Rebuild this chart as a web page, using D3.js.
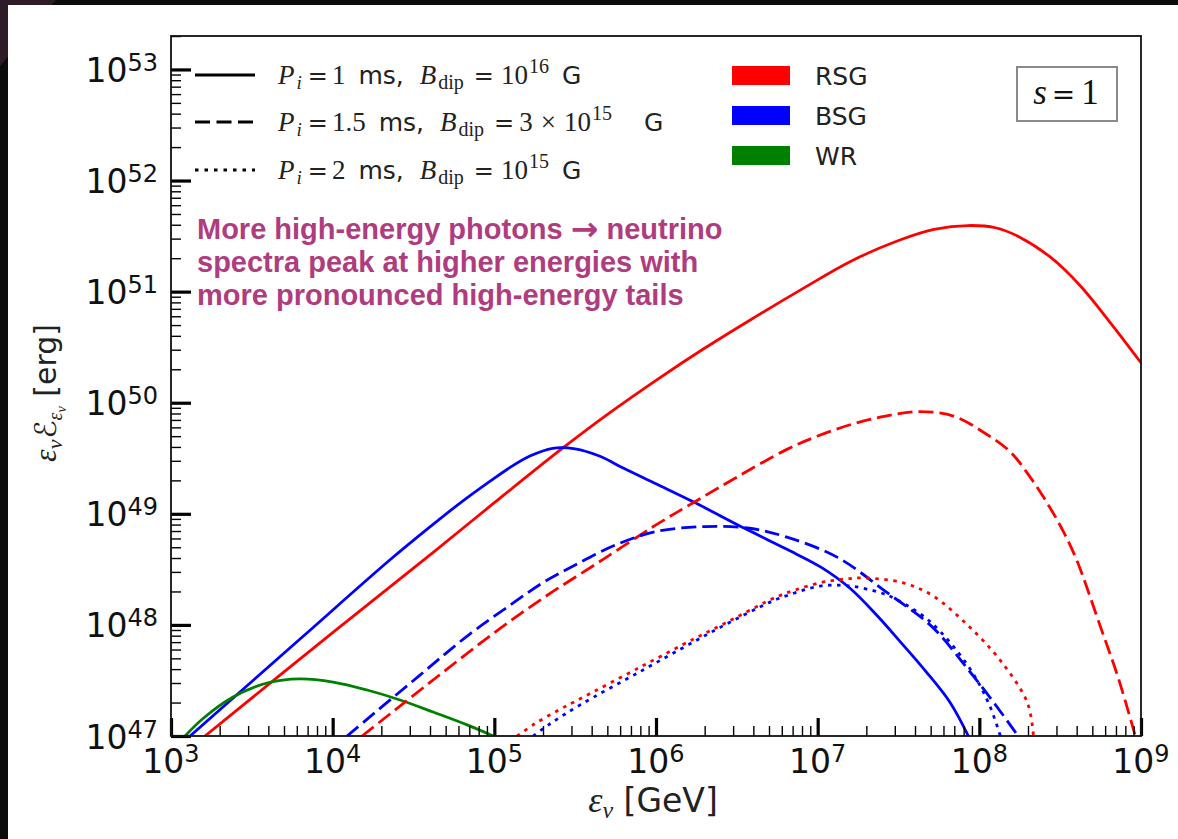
<!DOCTYPE html>
<html>
<head>
<meta charset="utf-8">
<script src="https://cdn.jsdelivr.net/npm/d3@7"></script>
<style>
  body { margin: 0; background: #0c0c0c; }
  svg { display: block; }
  text { white-space: pre; }
</style>
</head>
<body>
<svg id="chart" width="1178" height="839"></svg>
<script>
// all values are log10: [log10(eps_nu / GeV), log10(eps_nu * E_eps / erg)]
let xTickExps = [3, 4, 5, 6, 7, 8, 9];
let yTickExps = [47, 48, 49, 50, 51, 52, 53];

// P_i = 1 ms
let rsgP1 = [[3.21,47.0],[4.0,47.93],[4.62,48.65],[5.0,49.1],[5.426,49.595],[5.7,49.895],[6.014,50.215],
  [6.3,50.49],[6.583,50.745],[6.9,51.02],[7.2,51.27],[7.5,51.46],[7.72,51.56],[7.93,51.595],[8.1,51.575],
  [8.25,51.49],[8.44,51.31],[8.62,51.06],[8.8,50.74],[9.0,50.36]];
let bsgP1 = [[3.118,47.0],[3.8,47.875],[4.355,48.586],[4.6,48.88],[4.8,49.11],[4.97,49.29],[5.1,49.42],
  [5.22,49.52],[5.36,49.59],[5.5,49.585],[5.65,49.52],[5.8,49.41],[6.0,49.27],[6.23,49.108],[6.56,48.86],
  [6.81,48.68],[7.02,48.52],[7.2,48.33],[7.37,48.08],[7.51,47.85],[7.67,47.58],[7.82,47.3],[7.932,47.0]];
let wrP1 = [[3.087,47.0],[3.2,47.16],[3.384,47.351],[3.594,47.477],[3.798,47.514],[4.002,47.486],
  [4.213,47.414],[4.417,47.324],[4.621,47.216],[4.832,47.1],[4.993,47.0]];

// P_i = 1.5 ms
let rsgP15 = [[4.182,47.0],[4.6,47.48],[5.0,47.93],[5.3,48.24],[5.673,48.59],[6.0,48.9],[6.23,49.1],
  [6.5,49.33],[6.81,49.58],[7.0,49.7],[7.22,49.81],[7.42,49.88],[7.62,49.92],[7.84,49.88],[8.03,49.73],
  [8.19,49.56],[8.3,49.36],[8.41,49.12],[8.52,48.84],[8.606,48.57],[8.75,47.98],[8.86,47.52],[8.965,47.0]];
let bsgP15 = [[4.089,47.0],[4.5,47.5],[4.85,47.92],[5.1,48.18],[5.3,48.38],[5.5,48.54],[5.75,48.72],
  [6.0,48.84],[6.3,48.885],[6.58,48.87],[6.81,48.79],[7.12,48.61],[7.43,48.29],[7.71,47.98],[7.93,47.6],
  [8.09,47.3],[8.24,47.0]];

// P_i = 2 ms
let rsgP2 = [[5.141,47.0],[5.25,47.11],[5.4,47.235],[5.531,47.335],[5.902,47.62],[6.236,47.875],
  [6.4,47.995],[6.713,48.23],[6.812,48.29],[7.016,48.38],[7.15,48.41],[7.282,48.423],[7.53,48.378],
  [7.715,48.26],[7.926,48.0],[8.13,47.68],[8.297,47.3],[8.335,47.0]];
let bsgP2 = [[5.24,47.0],[5.345,47.11],[5.531,47.28],[5.902,47.58],[6.236,47.85],[6.4,47.98],
  [6.713,48.21],[6.812,48.265],[7.016,48.35],[7.202,48.35],[7.387,48.29],[7.493,48.225],[7.697,48.027],
  [7.926,47.64],[8.056,47.3],[8.13,47.0]];

let progenitors = ['RSG', 'BSG', 'WR'];
let progColors = ['#ff0000', '#0000ff', '#008000'];

let W = 1178, H = 839;
let pLeft = 171, pRight = 1141, pTop = 36, pBottom = 736;

let svg = d3.select('#chart');

// slide background
svg.append('rect').attr('width', W).attr('height', H).attr('fill', '#0c0c0c');
svg.append('path').attr('d', 'M0,0 L56,0 L0,66 Z').attr('fill', '#2e1b28');
svg.append('rect').attr('x', 8).attr('y', 5).attr('width', W - 8).attr('height', H - 5).attr('fill', '#fff');

let sx = d3.scaleLog().domain([1e3, 1e9]).range([pLeft, pRight]);
let sy = d3.scaleLog().domain([1e47, 2e53]).range([pBottom, pTop]);

svg.append('clipPath').attr('id', 'plotclip')
  .append('rect').attr('x', pLeft).attr('y', pTop).attr('width', pRight - pLeft).attr('height', pBottom - pTop);

let series = [
  {data: rsgP1, color: progColors[0], dash: null},
  {data: bsgP1, color: progColors[1], dash: null},
  {data: wrP1, color: progColors[2], dash: null},
  {data: rsgP15, color: progColors[0], dash: '15,6'},
  {data: bsgP15, color: progColors[1], dash: '15,6'},
  {data: rsgP2, color: progColors[0], dash: '3.5,5.5'},
  {data: bsgP2, color: progColors[1], dash: '3.5,5.5'}
];

let line = d3.line()
  .x(d => sx(Math.pow(10, d[0])))
  .y(d => sy(Math.pow(10, d[1])))
  .curve(d3.curveCatmullRom.alpha(0.5));

svg.append('g').attr('clip-path', 'url(#plotclip)')
  .selectAll('path.curve')
  .data(series)
  .enter()
  .append('path')
  .attr('class', 'curve')
  .attr('d', d => line(d.data))
  .attr('fill', 'none')
  .attr('stroke', d => d.color)
  .attr('stroke-width', 2.8)
  .attr('stroke-dasharray', d => d.dash);

// ticks
let majorX = xTickExps.map(e => Math.pow(10, e));
let minorX = [];
xTickExps.slice(0, -1).forEach(e => { for (let m = 2; m < 10; m++) minorX.push(m * Math.pow(10, e)); });
let majorY = yTickExps.map(e => Math.pow(10, e));
let minorY = [];
yTickExps.forEach(e => { for (let m = 2; m < 10; m++) if (m * Math.pow(10, e) <= 2e53) minorY.push(m * Math.pow(10, e)); });

function tickAxis(axis, g, width) {
  g.call(axis);
  g.select('.domain').remove();
  g.selectAll('line').attr('stroke', '#000').attr('stroke-width', width);
}

tickAxis(d3.axisBottom(sx).tickValues(minorX).tickSize(-10).tickFormat(''),
  svg.append('g').attr('transform', `translate(0,${pBottom})`), 1.4);
tickAxis(d3.axisBottom(sx).tickValues(majorX).tickSize(-18).tickFormat(''),
  svg.append('g').attr('transform', `translate(0,${pBottom})`), 3.2);
tickAxis(d3.axisLeft(sy).tickValues(minorY).tickSize(-10).tickFormat(''),
  svg.append('g').attr('transform', `translate(${pLeft},0)`), 1.4);
tickAxis(d3.axisLeft(sy).tickValues(majorY).tickSize(-20).tickFormat(''),
  svg.append('g').attr('transform', `translate(${pLeft},0)`), 3.2);

// frame
svg.append('rect').attr('x', pLeft).attr('y', pTop).attr('width', pRight - pLeft).attr('height', pBottom - pTop)
  .attr('fill', 'none').attr('stroke', '#111').attr('stroke-width', 1.8);

let SANS = "'DejaVu Sans', sans-serif";
let SERIF = "'Liberation Serif', 'DejaVu Serif', serif";
let DJSERIF = "'DejaVu Serif', serif";

// rich text helper: segments with absolute baseline shift
function rich(sel, segs) {
  let cur = 0;
  segs.forEach(s => {
    let sh = s.sh || 0;
    sel.append('tspan')
      .attr('dy', sh - cur)
      .attr('dx', s.dx || 0)
      .attr('font-family', s.f || SERIF)
      .attr('font-style', s.i ? 'italic' : 'normal')
      .attr('font-size', s.s)
      .text(s.t);
    cur = sh;
  });
}

// tick labels
svg.selectAll('text.ylab')
  .data(yTickExps)
  .enter()
  .append('text')
  .attr('class', 'ylab')
  .attr('x', 158)
  .attr('y', d => sy(Math.pow(10, d)) + 12.5)
  .attr('text-anchor', 'end')
  .attr('fill', '#111')
  .each(function(d) {
    rich(d3.select(this), [{t: '10', f: SANS, s: 33}, {t: String(d), f: SANS, s: 24, sh: -11}]);
  });

svg.selectAll('text.xlab')
  .data(xTickExps)
  .enter()
  .append('text')
  .attr('class', 'xlab')
  .attr('x', d => sx(Math.pow(10, d)))
  .attr('y', 773)
  .attr('text-anchor', 'middle')
  .attr('fill', '#111')
  .each(function(d) {
    rich(d3.select(this), [{t: '10', f: SANS, s: 33}, {t: String(d), f: SANS, s: 24, sh: -11}]);
  });

// axis titles
rich(svg.append('text').attr('x', 653).attr('y', 812).attr('text-anchor', 'middle').attr('fill', '#222'), [
  {t: 'ε', i: true, s: 36},
  {t: 'ν', i: true, s: 24, sh: 6},
  {t: ' [GeV]', f: SANS, s: 33}
]);

rich(svg.append('text').attr('transform', 'translate(56,393) rotate(-90)').attr('text-anchor', 'middle').attr('fill', '#222'), [
  {t: 'ε', i: true, s: 32},
  {t: 'ν', i: true, s: 22, sh: 6},
  {t: 'ℰ', f: SANS, s: 30, dx: 1},
  {t: 'ε', i: true, s: 20, sh: 6},
  {t: 'ν', i: true, s: 14, sh: 10},
  {t: ' [erg]', f: SANS, s: 30}
]);

// line-style legend
function legendSegs(period, field) {
  let head = [
    {t: 'P', i: true, s: 27}, {t: 'i', i: true, s: 19, sh: 5, dx: 2}, {t: '=', f: DJSERIF, s: 24, dx: 6},
    {t: period, s: 27, dx: 4}, {t: 'ms,', f: SANS, s: 25, dx: 13}, {t: 'B', i: true, s: 27, dx: 16},
    {t: 'dip', s: 20, sh: 5, dx: 2}, {t: '=', f: DJSERIF, s: 24, dx: 10}
  ];
  return head.concat(field);
}

let styleLegend = [
  {dash: null, y: 75, segs: legendSegs('1', [
    {t: '10', s: 27, dx: 7}, {t: '16', s: 20, sh: -11, dx: 1}, {t: 'G', f: SANS, s: 25, dx: 13}])},
  {dash: '15,6.5', y: 122, segs: legendSegs('1.5', [
    {t: '3', s: 27, dx: 5}, {t: '×', s: 27, dx: 8}, {t: '10', s: 27, dx: 8}, {t: '15', s: 20, sh: -11, dx: 1},
    {t: 'G', f: SANS, s: 25, dx: 32}])},
  {dash: '3.5,6', y: 170, segs: legendSegs('2', [
    {t: '10', s: 27, dx: 7}, {t: '15', s: 20, sh: -11, dx: 1}, {t: 'G', f: SANS, s: 25, dx: 13}])}
];

styleLegend.forEach(d => {
  svg.append('line').attr('x1', 195).attr('x2', 255).attr('y1', d.y).attr('y2', d.y)
    .attr('stroke', '#000').attr('stroke-width', 3).attr('stroke-dasharray', d.dash);
  rich(svg.append('text').attr('x', 278).attr('y', d.y + 9).attr('fill', '#222'), d.segs);
});

// progenitor legend
progenitors.forEach((p, i) => {
  svg.append('rect').attr('x', 732).attr('y', 66 + i * 40).attr('width', 58).attr('height', 19)
    .attr('fill', progColors[i]);
  svg.append('text').attr('x', 815).attr('y', 85 + i * 40)
    .attr('font-family', SANS).attr('font-size', 25).attr('fill', '#222').text(p);
});

// s = 1 box
svg.append('rect').attr('x', 1017).attr('y', 67).attr('width', 100).attr('height', 54)
  .attr('fill', '#fff').attr('stroke', '#8a8a8a').attr('stroke-width', 2);
rich(svg.append('text').attr('x', 1066).attr('y', 104).attr('text-anchor', 'middle').attr('fill', '#111'), [
  {t: 's', i: true, s: 35}, {t: '=', f: DJSERIF, s: 28, dx: 5}, {t: '1', s: 35, dx: 6}
]);

// annotation
let noteLines = [
  ['More high-energy photons ', '→', ' neutrino'],
  ['spectra peak at higher energies with'],
  ['more pronounced high-energy tails']
];
svg.selectAll('text.note')
  .data(noteLines)
  .enter()
  .append('text')
  .attr('class', 'note')
  .attr('x', 197)
  .attr('y', (d, i) => 239 + i * 33)
  .attr('font-family', "'Liberation Sans', Arial, sans-serif")
  .attr('font-weight', 'bold')
  .attr('font-size', 29)
  .attr('fill', '#b03c80')
  .each(function(d) {
    let t = d3.select(this);
    d.forEach(part => {
      let ts = t.append('tspan').text(part);
      if (part === '→') ts.attr('font-family', SANS).attr('font-size', 33).attr('dy', 1);
      else ts.attr('dy', part === ' neutrino' ? -1 : 0);
    });
  });
</script>
</body>
</html>
